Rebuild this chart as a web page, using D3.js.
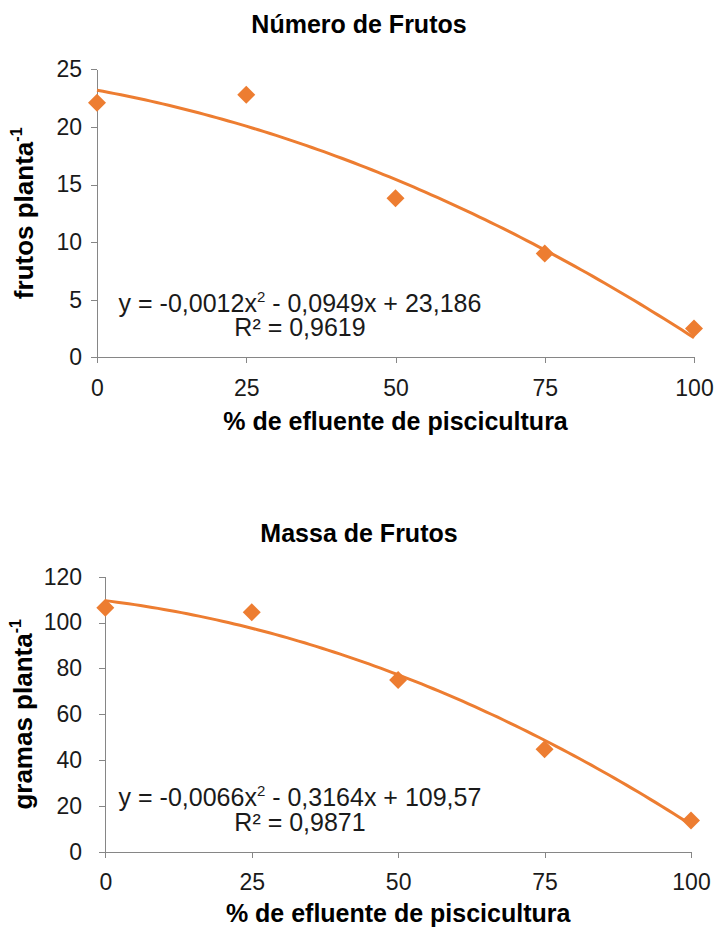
<!DOCTYPE html>
<html lang="pt">
<head>
  <meta charset="UTF-8">
  <title>Número e Massa de Frutos</title>
  <style>
    body { margin: 0; background: #fff; }
    svg { display: block; font-family: "Liberation Sans", Arial, sans-serif; }
    .axis path, .axis line { stroke: #868686; stroke-width: 1; shape-rendering: crispEdges; }
    .axis text { fill: #1a1a1a; font-size: 23px; font-family: "Liberation Sans", Arial, sans-serif; }
  </style>
</head>
<body>
  <svg width="718" height="929"></svg>
  <script src="https://d3js.org/d3.v7.min.js"></script>
  <script>
    // dados
    var doses = [0, 25, 50, 75, 100];
    var numeroFrutos = [22.1, 22.8, 13.8, 9.0, 2.5];
    var massaFrutos = [106.5, 104.5, 75.0, 44.8, 13.7];

    // coeficientes das linhas de tendência (a, b, c)
    var numeroCoef = [-0.0012, -0.0949, 23.186];
    var massaCoef = [-0.0066, -0.3164, 109.57];

    var xTicks = [0, 25, 50, 75, 100];
    var numeroTicks = [0, 5, 10, 15, 20, 25];
    var massaTicks = [0, 20, 40, 60, 80, 100, 120];

    var numeroEq = ["y = -0,0012x", "2", " - 0,0949x + 23,186", "R² = 0,9619"];
    var massaEq = ["y = -0,0066x", "2", " - 0,3164x + 109,57", "R² = 0,9871"];

    var orange = "#ED7D31";
    var svg = d3.select("svg");

    function drawPanel(p) {
      var x = d3.scaleLinear().domain([0, 100]).range([p.left, p.right]);
      var y = d3.scaleLinear().domain([0, d3.max(p.yTicks)]).range([p.bottom, p.top]);
      var g = svg.append("g");

      // titulo
      g.append("text")
        .attr("x", 359).attr("y", p.titleY)
        .attr("text-anchor", "middle")
        .style("font-size", "25px").style("font-weight", "bold")
        .text(p.title);

      // eixos
      var tick = 6;
      g.append("g")
        .attr("class", "axis")
        .attr("transform", "translate(" + p.left + ",0)")
        .call(d3.axisLeft(y).tickValues(p.yTicks).tickSize(tick).tickSizeOuter(0)
          .tickPadding(p.left - 82 - tick));

      g.append("g")
        .attr("class", "axis")
        .attr("transform", "translate(0," + p.bottom + ")")
        .call(d3.axisBottom(x).tickValues(xTicks).tickSize(tick).tickSizeOuter(0))
        .selectAll("text")
          .attr("y", 22);

      // titulo eixo x
      g.append("text")
        .attr("x", (p.left + p.right) / 2).attr("y", p.xTitleY)
        .attr("text-anchor", "middle")
        .style("font-size", "25px").style("font-weight", "bold")
        .text("% de efluente de piscicultura");

      // titulo eixo y
      var yt = g.append("text")
        .attr("transform", "translate(" + p.yTitleX + "," + ((p.top + p.bottom) / 2) + ") rotate(-90)")
        .attr("text-anchor", "middle")
        .style("font-size", "26px").style("font-weight", "bold");
      yt.append("tspan").text(p.yTitle);
      yt.append("tspan").attr("dy", -11).style("font-size", "16px").text("-1");

      // linha de tendencia
      var c = p.coef;
      var pts = d3.range(0, 101, 1).map(function(v) { return [v, c[0] * v * v + c[1] * v + c[2]]; });
      g.append("path")
        .datum(pts)
        .attr("fill", "none")
        .attr("stroke", orange)
        .attr("stroke-width", 3)
        .attr("d", d3.line().x(function(d) { return x(d[0]); }).y(function(d) { return y(d[1]); }));

      // marcadores
      g.selectAll(".pt")
        .data(p.values)
        .enter().append("path")
        .attr("class", "pt")
        .attr("d", d3.symbol().type(d3.symbolSquare).size(162))
        .attr("transform", function(d, i) { return "translate(" + x(doses[i]) + "," + y(d) + ") rotate(45)"; })
        .attr("fill", orange);

      // equacao
      var eq = g.append("text")
        .attr("x", 300).attr("y", p.eqY)
        .attr("text-anchor", "middle")
        .style("font-size", "25px").attr("fill", "#1a1a1a");
      eq.append("tspan").text(p.eq[0]);
      eq.append("tspan").attr("dy", -10).style("font-size", "15px").text(p.eq[1]);
      eq.append("tspan").attr("dy", 10).text(p.eq[2]);
      g.append("text")
        .attr("x", 300).attr("y", p.eqY + p.eqGap)
        .attr("text-anchor", "middle")
        .style("font-size", "25px").attr("fill", "#1a1a1a")
        .text(p.eq[3]);
    }

    drawPanel({
      title: "Número de Frutos", titleY: 33,
      left: 97, right: 694, top: 69.3, bottom: 357.3,
      yTicks: numeroTicks, values: numeroFrutos, coef: numeroCoef,
      yTitle: "frutos planta", yTitleX: 33,
      xTitleY: 430, eq: numeroEq, eqY: 312, eqGap: 24
    });

    drawPanel({
      title: "Massa de Frutos", titleY: 542,
      left: 105.3, right: 691, top: 576.7, bottom: 852,
      yTicks: massaTicks, values: massaFrutos, coef: massaCoef,
      yTitle: "gramas planta", yTitleX: 32,
      xTitleY: 922, eq: massaEq, eqY: 806, eqGap: 25
    });
  </script>
</body>
</html>
